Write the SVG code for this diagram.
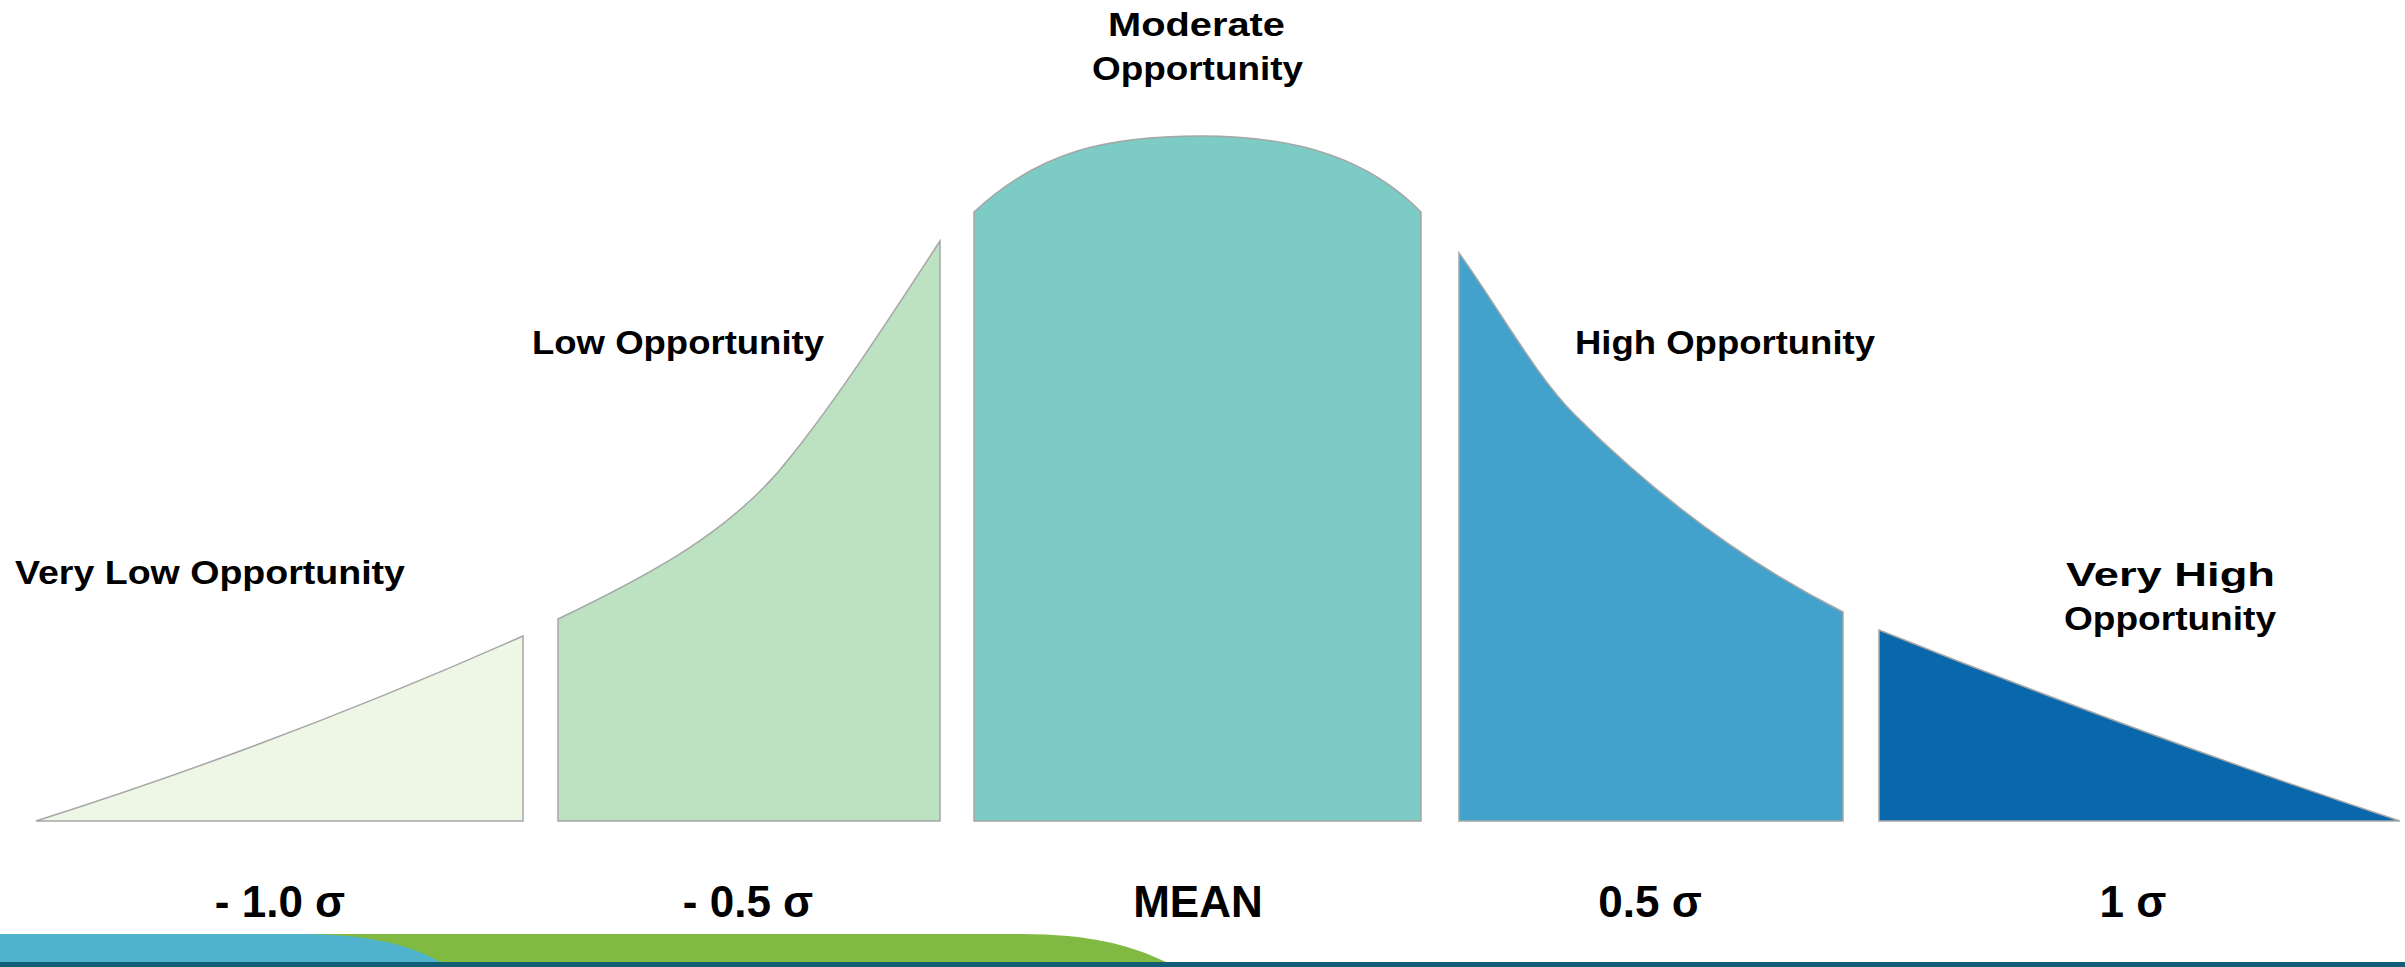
<svg xmlns="http://www.w3.org/2000/svg" width="2405" height="967" viewBox="0 0 2405 967">
  <style>
    .seg { stroke: #a6a6a6; stroke-width: 1.5; stroke-linejoin: miter; }
    .lbl { font-family: "Liberation Sans", Arial, sans-serif; font-weight: bold; font-size: 33px; fill: #000; }
    .ax { font-family: "Liberation Sans", Arial, sans-serif; font-weight: bold; font-size: 44px; fill: #000; text-anchor: middle; }
  </style>
  <rect width="2405" height="967" fill="#ffffff"/>

  <g id="band">
    <path d="M0,934 L1021,934 C1090,934 1130,945 1166,962 L0,962 Z" fill="#80ba42"/>
    <path d="M0,934 L299,934 C370,934 410,945 440,962 L0,962 Z" fill="#50b3cd"/>
    <rect x="0" y="962" width="2405" height="5" fill="#135e77"/>
  </g>

  <g id="very-low">
    <path class="seg" d="M36,821 Q285,742 523,636 L523,821 Z" fill="#eef7e6"/>
    <text class="lbl" x="15" y="584" textLength="390" lengthAdjust="spacingAndGlyphs">Very Low Opportunity</text>
    <text class="ax" x="280" y="917">- 1.0 σ</text>
  </g>

  <g id="low">
    <path class="seg" d="M558,619 C650,575 735,530 792,455 C840,395 895,310 940,241 L940,821 L558,821 Z" fill="#bde2c1"/>
    <text class="lbl" x="532" y="354" textLength="292" lengthAdjust="spacingAndGlyphs">Low Opportunity</text>
    <text class="ax" x="748" y="917">- 0.5 σ</text>
  </g>

  <g id="moderate">
    <path class="seg" d="M974,212 C1040,150 1110,136 1201,136 C1300,136 1370,160 1421,212 L1421,821 L974,821 Z" fill="#7ccbc4"/>
    <text class="lbl" x="1108" y="36" textLength="177" lengthAdjust="spacingAndGlyphs">Moderate</text>
    <text class="lbl" x="1092" y="80" textLength="211" lengthAdjust="spacingAndGlyphs">Opportunity</text>
    <text class="ax" x="1198" y="917">MEAN</text>
  </g>

  <g id="high">
    <path class="seg" d="M1459,253 C1500,310 1535,375 1575,415 C1660,500 1750,565 1843,612 L1843,821 L1459,821 Z" fill="#42a2cb"/>
    <text class="lbl" x="1575" y="354" textLength="300" lengthAdjust="spacingAndGlyphs">High Opportunity</text>
    <text class="ax" x="1650" y="917">0.5 σ</text>
  </g>

  <g id="very-high">
    <path class="seg" d="M1879,630 Q2150,738 2400,821 L1879,821 Z" fill="#0868ab"/>
    <text class="lbl" x="2066" y="586" textLength="209" lengthAdjust="spacingAndGlyphs">Very High</text>
    <text class="lbl" x="2064" y="630" textLength="212" lengthAdjust="spacingAndGlyphs">Opportunity</text>
    <text class="ax" x="2133" y="917">1 σ</text>
  </g>

  <g id="connectors"></g>
</svg>
